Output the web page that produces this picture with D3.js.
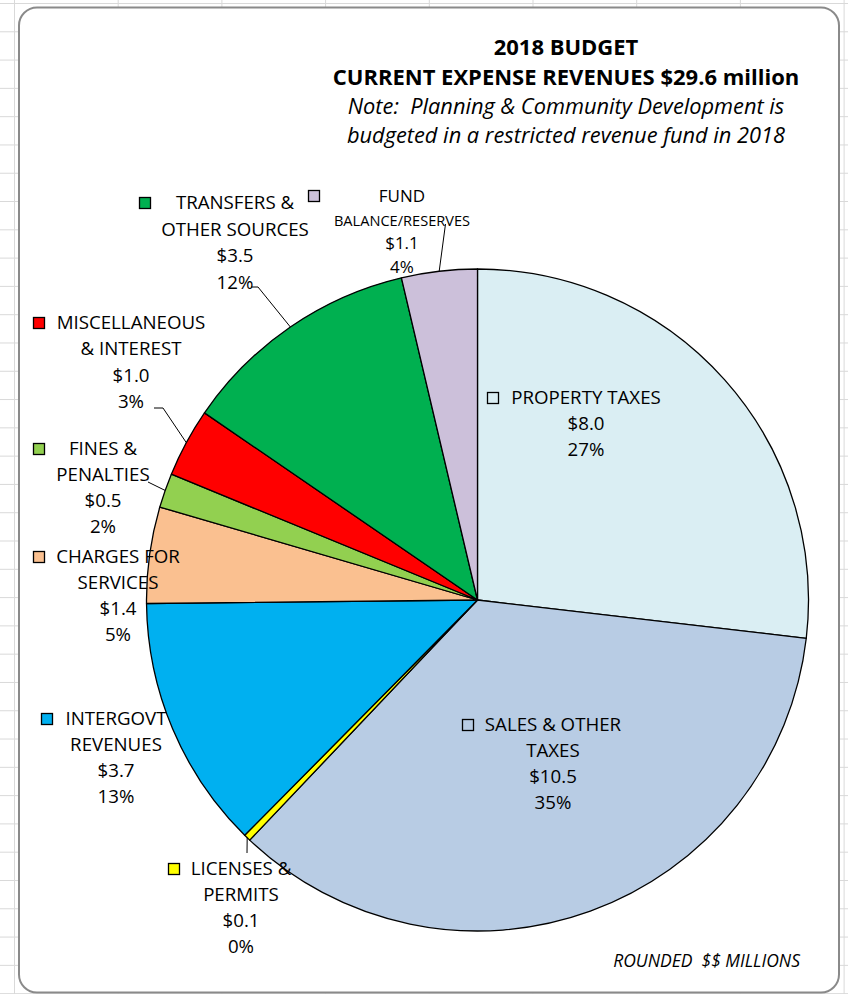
<!DOCTYPE html>
<html>
<head>
<meta charset="utf-8">
<script src="https://cdn.jsdelivr.net/npm/d3@7"></script>
<style>
  body { margin: 0; background: #fff; }
  text { font-family: "Open Sans", sans-serif; fill: #000; white-space: pre; }
</style>
</head>
<body>
<script>
// values in $ millions, clockwise from 12 o'clock
const categories = ["PROPERTY TAXES", "SALES & OTHER TAXES", "LICENSES & PERMITS", "INTERGOVT REVENUES",
    "CHARGES FOR SERVICES", "FINES & PENALTIES", "MISCELLANEOUS & INTEREST", "TRANSFERS & OTHER SOURCES",
    "FUND BALANCE/RESERVES"];
const values = [8.0, 10.5, 0.1, 3.7, 1.4, 0.5, 1.0, 3.5, 1.1];
const dollarLabels = ["$8.0", "$10.5", "$0.1", "$3.7", "$1.4", "$0.5", "$1.0", "$3.5", "$1.1"];
const percentLabels = ["27%", "35%", "0%", "13%", "5%", "2%", "3%", "12%", "4%"];
const nameLines = [
    ["PROPERTY TAXES"],
    ["SALES & OTHER", "TAXES"],
    ["LICENSES &", "PERMITS"],
    ["INTERGOVT", "REVENUES"],
    ["CHARGES FOR", "SERVICES"],
    ["FINES &", "PENALTIES"],
    ["MISCELLANEOUS", "& INTEREST"],
    ["TRANSFERS &", "OTHER SOURCES"],
    ["FUND", "BALANCE/RESERVES"]
];
const colors = ["#DAEEF3", "#B8CCE4", "#FFFF00", "#00B0F0", "#FAC090", "#92D050", "#FF0000", "#00B050", "#CCC0DA"];

const titleLines = ["2018 BUDGET", "CURRENT EXPENSE REVENUES $29.6 million"];
const noteLines = ["Note:  Planning & Community Development is", "budgeted in a restricted revenue fund in 2018"];
const footnote = "ROUNDED  $$ MILLIONS";

let width = 848, height = 994;
let cx = 477.5, cy = 600, radius = 331;

let svg = d3.select("body").append("svg")
    .attr("width", width)
    .attr("height", height);

// spreadsheet grid behind the chart
let gridColor = "#d9d9d9";
svg.selectAll("line.h")
    .data(d3.range(0, 36))
    .enter().append("line")
    .attr("x1", 0).attr("x2", width)
    .attr("y1", d => 3.5 + d * 28.29).attr("y2", d => 3.5 + d * 28.29)
    .attr("stroke", gridColor);
svg.selectAll("line.v")
    .data(d3.range(0, 9))
    .enter().append("line")
    .attr("x1", d => 14.5 + d * 103.7).attr("x2", d => 14.5 + d * 103.7)
    .attr("y1", 0).attr("y2", height)
    .attr("stroke", gridColor);

// chart area
svg.append("rect")
    .attr("x", 19).attr("y", 7.5)
    .attr("width", 820).attr("height", 985)
    .attr("rx", 18).attr("ry", 18)
    .attr("fill", "#fff")
    .attr("stroke", "#8a8a8a")
    .attr("stroke-width", 2);

// titles
let title = svg.append("g").attr("text-anchor", "middle");
title.selectAll("text.t")
    .data(titleLines)
    .enter().append("text")
    .attr("x", 566)
    .attr("y", (d, i) => 55 + i * 30)
    .attr("font-size", 22)
    .attr("font-weight", "bold")
    .text(d => d);
title.selectAll("text.n")
    .data(noteLines)
    .enter().append("text")
    .attr("x", 566)
    .attr("y", (d, i) => 114 + i * 29)
    .attr("font-size", 21.8)
    .attr("font-style", "italic")
    .text(d => d);

// pie
let pie = d3.pie().sort(null).value(d => d)(values);
let arc = d3.arc().innerRadius(0).outerRadius(radius);
let pieG = svg.append("g").attr("transform", "translate(" + cx + "," + cy + ")");
pieG.selectAll("path")
    .data(pie)
    .enter().append("path")
    .attr("d", arc)
    .attr("fill", (d, i) => colors[i])
    .attr("stroke", "#000")
    .attr("stroke-width", 1.3)
    .attr("stroke-linejoin", "round");

function edgePoint(d) {
    let a = (d.startAngle + d.endAngle) / 2;
    return [cx + radius * Math.sin(a), cy - radius * Math.cos(a)];
}

// label layout: block centre, first baseline, legend key x, line step, font size, leader start points
let labelLayout = [
    {x: 586, y: 404, keyX: 487, step: 26, size: 18.7},
    {x: 553, y: 731, keyX: 462, step: 26, size: 18.7},
    {x: 241, y: 875, keyX: 168, step: 26, size: 18.7, leader: [[247, 853]]},
    {x: 116, y: 725, keyX: 41, step: 26, size: 18.7},
    {x: 118, y: 563, keyX: 33, step: 26, size: 18.7},
    {x: 103, y: 455, keyX: 33, step: 26, size: 18.7, leader: [[148, 482]]},
    {x: 131, y: 329, keyX: 33, step: 26.3, size: 18.7, leader: [[154, 408], [163, 408]]},
    {x: 235, y: 209, keyX: 139, step: 26.5, size: 18.7, leader: [[251, 287], [258, 287]]},
    {x: 402, y: 202, keyX: 308, step: 23.5, size: 17, size2: 14.6, leader: [[445.5, 224]]}
];

let labels = svg.append("g");
pie.forEach(function(d, i) {
    let lay = labelLayout[i];
    if (lay.leader) {
        let pts = lay.leader.concat([edgePoint(d)]);
        labels.append("path")
            .attr("d", d3.line()(pts))
            .attr("fill", "none")
            .attr("stroke", "#000")
            .attr("stroke-width", 1);
    }
    let lines = nameLines[i].concat([dollarLabels[i], percentLabels[i]]);
    let g = labels.append("g").attr("text-anchor", "middle");
    g.selectAll("text")
        .data(lines)
        .enter().append("text")
        .attr("x", lay.x)
        .attr("y", (t, j) => lay.y + j * lay.step)
        .attr("font-size", (t, j) => (j == 1 && lay.size2) ? lay.size2 : lay.size)
        .text(t => t);
    labels.append("rect")
        .attr("x", lay.keyX + 0.5)
        .attr("y", lay.y - 11.5)
        .attr("width", 11)
        .attr("height", 11)
        .attr("fill", colors[i])
        .attr("stroke", "#000")
        .attr("stroke-width", 1.3);
});

svg.append("text")
    .attr("x", 800)
    .attr("y", 967)
    .attr("text-anchor", "end")
    .attr("font-size", 17.5)
    .attr("font-style", "italic")
    .text(footnote);
</script>
</body>
</html>
